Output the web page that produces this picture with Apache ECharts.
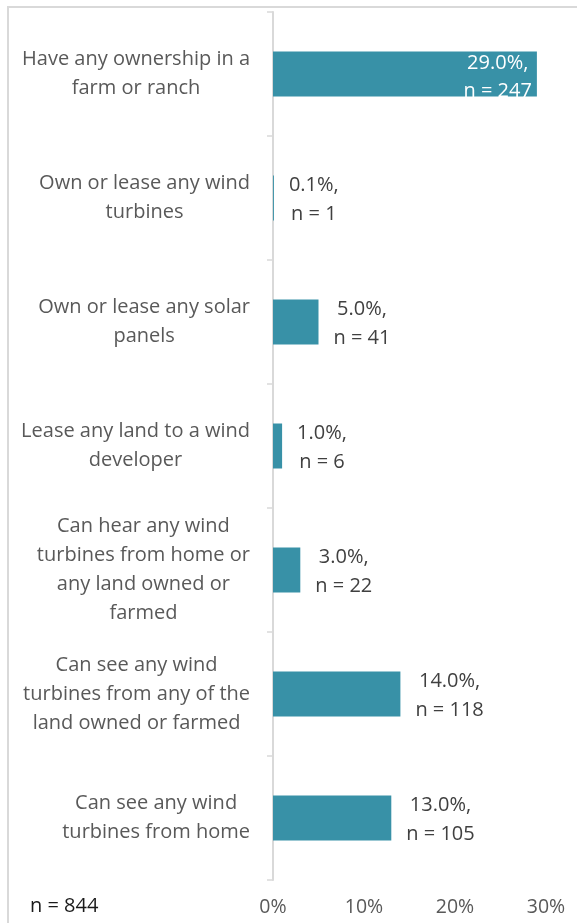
<!DOCTYPE html>
<html>
<head>
<meta charset="utf-8">
<script src="https://cdn.jsdelivr.net/npm/echarts@6/dist/echarts.min.js"></script>
<style>
  html, body { margin: 0; padding: 0; background: #fff; }
  #chart { width: 577px; height: 923px; }
</style>
</head>
<body>
<div id="chart"></div>
<script>
// Survey items, top to bottom
const categories = [
  'Have any ownership in a\nfarm or ranch',
  'Own or lease any wind\nturbines',
  'Own or lease any solar\npanels',
  'Lease any land to a wind\ndeveloper',
  'Can hear any wind\nturbines from home or\nany land owned or\nfarmed',
  'Can see any wind\nturbines from any of the\nland owned or farmed',
  'Can see any wind\nturbines from home'
];
// Share of respondents (%) and respondent counts
const percents = [29.0, 0.1, 5.0, 1.0, 3.0, 14.0, 13.0];
const counts = [247, 1, 41, 6, 22, 118, 105];
const xTicks = [0, 10, 20, 30];
const sampleNote = 'n = 844';

const FONT = '"Open Sans"';
const BAR = '#3891A7';

const chart = echarts.init(document.getElementById('chart'), null, { renderer: 'canvas' });

function valueText(i) {
  return '{v|' + percents[i].toFixed(1) + '%,}\n{v|n = ' + counts[i] + '}';
}

const outsideLabel = {
  show: true,
  position: 'right',
  distance: 15,
  offset: [0, 2],
  color: '#404040',
  fontFamily: FONT,
  fontSize: 20,
  lineHeight: 29,
  rich: { v: { align: 'center', color: '#404040', fontFamily: FONT, fontSize: 20, lineHeight: 29 } }
};
const insideLabel = {
  show: true,
  position: 'insideRight',
  distance: 5,
  offset: [0, 3],
  color: '#ffffff',
  align: 'right',
  fontFamily: FONT,
  fontSize: 20,
  lineHeight: 28,
  rich: { v: { align: 'center', color: '#ffffff', fontFamily: FONT, fontSize: 20, lineHeight: 28 } }
};

const xMax = xTicks[xTicks.length - 1];

chart.setOption({
  animation: false,
  backgroundColor: '#ffffff',
  grid: { left: 273, right: 31, top: 12, bottom: 43, containLabel: false },
  xAxis: {
    type: 'value',
    min: xTicks[0],
    max: xMax,
    interval: xTicks[1] - xTicks[0],
    axisLine: { show: false },
    axisTick: { show: false },
    splitLine: { show: false },
    axisLabel: {
      formatter: '{value}%',
      color: '#595959',
      fontFamily: FONT,
      fontSize: 19.5,
      margin: 17
    }
  },
  yAxis: {
    type: 'category',
    inverse: true,
    data: categories,
    axisLine: { show: true, lineStyle: { color: '#d9d9d9', width: 2 } },
    axisTick: { show: true, length: 6, alignWithLabel: false, lineStyle: { color: '#d9d9d9', width: 1.5 } },
    axisLabel: {
      margin: 23,
      align: 'right',
      color: '#595959',
      fontFamily: FONT,
      fontSize: 20,
      lineHeight: 29,
      formatter: function (val) {
        return val.split('\n').map(function (s) { return '{c|' + s + '}'; }).join('\n');
      },
      rich: { c: { align: 'center', color: '#595959', fontFamily: FONT, fontSize: 20, lineHeight: 29 } }
    }
  },
  series: [{
    type: 'bar',
    barWidth: 45,
    itemStyle: { color: BAR },
    data: percents.map(function (v, i) {
      const inside = v > xMax * 0.8;
      return {
        value: v,
        label: Object.assign({}, inside ? insideLabel : outsideLabel, {
          formatter: function () { return valueText(i); }
        })
      };
    })
  }],
  graphic: [
    {
      type: 'rect',
      silent: true,
      shape: { x: 8, y: 7, width: 700, height: 1000 },
      style: { fill: 'none', stroke: '#d9d9d9', lineWidth: 2 }
    },
    {
      type: 'text',
      left: 30,
      top: 896,
      style: { text: sampleNote, fill: '#1a1a1a', font: '20px ' + FONT }
    }
  ]
});
</script>
</body>
</html>
